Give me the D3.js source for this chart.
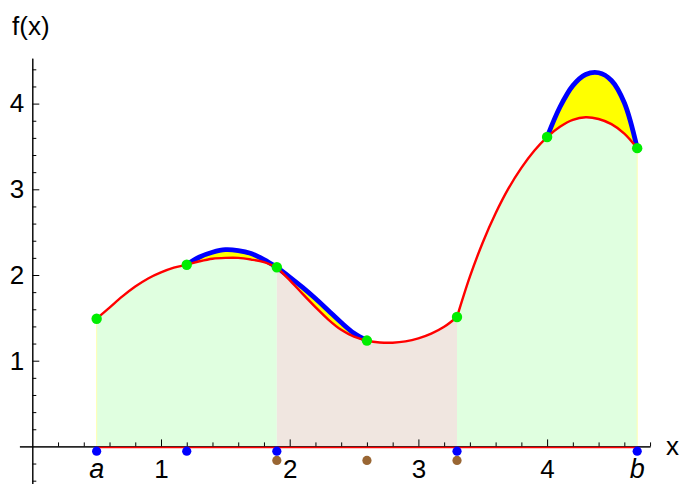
<!DOCTYPE html>
<html>
<head>
<meta charset="utf-8">
<script src="https://cdn.jsdelivr.net/npm/d3@7"></script>
<style>
    body { margin: 0; background: #fff; }
    svg text { font-family: "Liberation Sans", Arial, sans-serif; }
</style>
</head>
<body>
<div id="chart-area"></div>
<script>

// f(x) sampled along the curve (red)
let fX = [0.5, 0.6, 0.7, 0.8, 0.9, 1.0, 1.1, 1.2, 1.3, 1.4, 1.5, 1.6, 1.7, 1.8, 1.9,
    2.0, 2.1, 2.2, 2.3, 2.4, 2.5, 2.6, 2.7, 2.8, 2.9, 3.0, 3.1, 3.2, 3.3,
    3.4, 3.5, 3.6, 3.7, 3.8, 3.9, 4.0, 4.1, 4.2, 4.3, 4.4, 4.5, 4.6, 4.7];
let fY = [1.49, 1.62, 1.75, 1.865, 1.96, 2.03, 2.085, 2.12, 2.16, 2.19, 2.20, 2.20, 2.18, 2.15, 2.09,
    1.94, 1.78, 1.625, 1.48, 1.36, 1.28, 1.235, 1.213, 1.21, 1.225, 1.26, 1.315, 1.395, 1.51,
    1.98, 2.38, 2.72, 3.01, 3.25, 3.45, 3.61, 3.73, 3.81, 3.84, 3.82, 3.76, 3.65, 3.48];

// approximating curves (blue)
let blue1X = [1.2, 1.3, 1.4, 1.5, 1.6, 1.7, 1.8, 1.9];
let blue1Y = [2.12, 2.21, 2.265, 2.295, 2.285, 2.25, 2.18, 2.09];
let blue2X = [1.9, 2.0, 2.1, 2.2, 2.3, 2.4, 2.5, 2.6];
let blue2Y = [2.09, 1.975, 1.855, 1.725, 1.585, 1.445, 1.32, 1.235];
let blue3X = [4.0, 4.1, 4.2, 4.3, 4.4, 4.5, 4.6, 4.7];
let blue3Y = [3.61, 3.96, 4.21, 4.34, 4.36, 4.27, 4.01, 3.48];

// nodes
let nodeX = [0.5, 1.2, 1.9, 2.6, 3.3, 4.0, 4.7];
let blueNodeX = [0.5, 1.2, 1.9, 3.3, 4.7];
let brownNodeX = [1.9, 2.6, 3.3];

// panels under the curve
let panelStart = [0.5, 1.9, 3.3];
let panelEnd = [1.9, 3.3, 4.7];
let panelColor = ["#e0ffe0", "#f0e6e0", "#e0ffe0"];

// ticks
let xMajor = [1, 2, 3, 4];
let yMajor = [1, 2, 3, 4];


// SVG drawing area
let width = 681, height = 484;

let svg = d3.select("#chart-area").append("svg")
    .attr("width", width)
    .attr("height", height);

// Scales
let x = d3.scaleLinear()
    .domain([-0.1, 4.8])
    .range([32.3 - 0.1 * 128.7, 32.3 + 4.8 * 128.7]);

let y = d3.scaleLinear()
    .domain([-0.5, 4.53])
    .range([446.4 + 0.5 * 85.7, 446.4 - 4.53 * 85.7]);

let fAt = function (v) {
    return fY[fX.findIndex(d => Math.abs(d - v) < 1e-9)];
};

let pts = fX.map((d, i) => ({x: d, y: fY[i]}));

let line = d3.line()
    .x(d => x(d.x))
    .y(d => y(d.y))
    .curve(d3.curveCatmullRom);

let area = d3.area()
    .x(d => x(d.x))
    .y0(d => y(d.y0))
    .y1(d => y(d.y1))
    .curve(d3.curveCatmullRom);

// Panels
panelStart.forEach(function (lo, i) {
    let seg = pts.filter(d => d.x >= lo - 1e-9 && d.x <= panelEnd[i] + 1e-9)
        .map(d => ({x: d.x, y0: 0, y1: d.y}));
    svg.append("path")
        .attr("d", area(seg))
        .attr("fill", panelColor[i]);
});

// faint edges at a and b
[panelStart[0], panelEnd[2]].forEach(function (v) {
    svg.append("line")
        .attr("x1", x(v)).attr("x2", x(v))
        .attr("y1", y(0)).attr("y2", y(fAt(v)))
        .attr("stroke", "#ffffb0")
        .attr("stroke-width", 1);
});

// Yellow gaps between curve and approximation
let blueSegs = [[blue1X, blue1Y], [blue2X, blue2Y], [blue3X, blue3Y]];

blueSegs.forEach(function (s) {
    let seg = s[0].map((d, i) => ({x: d, y0: fAt(d), y1: s[1][i]}));
    svg.append("path")
        .attr("d", area(seg))
        .attr("fill", "#ffff00");
});

// Axes
let xAxis = d3.axisBottom(x)
    .tickValues(xMajor)
    .tickSizeInner(-7)
    .tickSizeOuter(0)
    .tickPadding(13.5)
    .tickFormat(d3.format("d"));

let xMinor = d3.axisBottom(x)
    .tickValues(d3.range(0.2, 4.81, 0.2).filter(d => Math.abs(d - Math.round(d)) > 0.01))
    .tickSizeInner(-4)
    .tickSizeOuter(0)
    .tickFormat("");

let yAxis = d3.axisLeft(y)
    .tickValues(yMajor)
    .tickSizeInner(-7)
    .tickSizeOuter(0)
    .tickPadding(8)
    .tickFormat(d3.format("d"));

let yMinor = d3.axisLeft(y)
    .tickValues(d3.range(-0.4, 4.41, 0.2).filter(d => Math.abs(d - Math.round(d)) > 0.01))
    .tickSizeInner(-4)
    .tickSizeOuter(0)
    .tickFormat("");

function styleAxis(g) {
    g.attr("font-size", 26)
        .attr("font-family", "Liberation Sans, Arial, sans-serif");
    g.selectAll("text").attr("fill", "#000");
    g.selectAll("line, path").attr("stroke", "#000");
}

svg.append("g").attr("class", "x-axis axis")
    .attr("transform", "translate(0," + y(0) + ")")
    .call(xMinor).call(styleAxis);
svg.append("g").attr("class", "x-axis axis")
    .attr("transform", "translate(0," + y(0) + ")")
    .call(xAxis).call(styleAxis);

svg.append("g").attr("class", "y-axis axis")
    .attr("transform", "translate(" + x(0) + ",0)")
    .call(yMinor).call(styleAxis);
svg.append("g").attr("class", "y-axis axis")
    .attr("transform", "translate(" + x(0) + ",0)")
    .call(yAxis).call(styleAxis);

// baseline under the panels
svg.append("line")
    .attr("x1", x(panelStart[0])).attr("x2", x(panelEnd[2]))
    .attr("y1", y(0) + 1.2).attr("y2", y(0) + 1.2)
    .attr("stroke", "#ff0000")
    .attr("stroke-width", 1.5);

// Blue approximations
blueSegs.forEach(function (s) {
    let seg = s[0].map((d, i) => ({x: d, y: s[1][i]}));
    svg.append("path")
        .attr("d", line(seg))
        .attr("fill", "none")
        .attr("stroke", "#0000ff")
        .attr("stroke-width", 4.8)
        .attr("stroke-linejoin", "round");
});

// Red curve, drawn per panel
panelStart.forEach(function (lo, i) {
    let seg = pts.filter(d => d.x >= lo - 1e-9 && d.x <= panelEnd[i] + 1e-9);
    svg.append("path")
        .attr("d", line(seg))
        .attr("fill", "none")
        .attr("stroke", "#ff0000")
        .attr("stroke-width", 2.4);
});

// Nodes on the curve
svg.selectAll(".node")
    .data(nodeX)
    .enter().append("circle")
    .attr("class", "node")
    .attr("cx", d => x(d))
    .attr("cy", d => y(fAt(d)))
    .attr("r", 5.2)
    .attr("fill", "#00ee00");

// Nodes on the axis
svg.selectAll(".brown-node")
    .data(brownNodeX)
    .enter().append("circle")
    .attr("class", "brown-node")
    .attr("cx", d => x(d))
    .attr("cy", y(0) + 14)
    .attr("r", 4.6)
    .attr("fill", "#996633");

svg.selectAll(".blue-node")
    .data(blueNodeX)
    .enter().append("circle")
    .attr("class", "blue-node")
    .attr("cx", d => x(d))
    .attr("cy", y(0) + 4.8)
    .attr("r", 4.6)
    .attr("fill", "#0000ff");

// Labels
svg.append("text")
    .attr("x", x(panelStart[0]))
    .attr("y", y(0) + 32)
    .attr("text-anchor", "middle")
    .attr("font-size", 27)
    .attr("font-style", "italic")
    .text("a");

svg.append("text")
    .attr("x", x(panelEnd[2]))
    .attr("y", y(0) + 32)
    .attr("text-anchor", "middle")
    .attr("font-size", 27)
    .attr("font-style", "italic")
    .text("b");

svg.append("text")
    .attr("x", 666)
    .attr("y", y(0) + 9)
    .attr("font-size", 26)
    .text("x");

svg.append("text")
    .attr("x", 12)
    .attr("y", 35)
    .attr("font-size", 26)
    .text("f(x)");

</script>
</body>
</html>
